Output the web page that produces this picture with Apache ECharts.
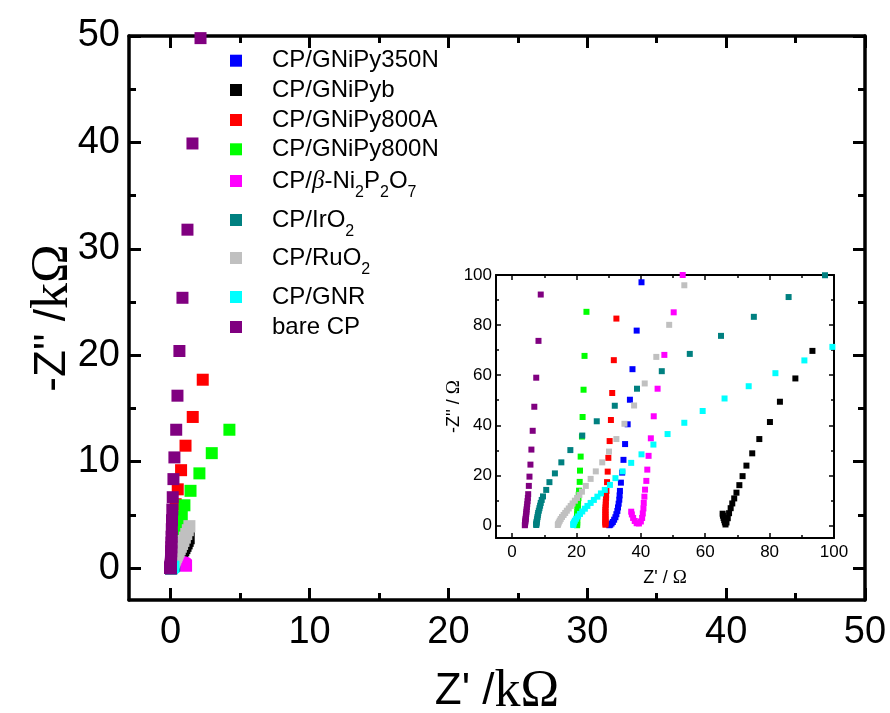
<!DOCTYPE html>
<html><head><meta charset="utf-8">
<script src="https://cdn.jsdelivr.net/npm/echarts@6/dist/echarts.min.js"></script>
<style>html,body{margin:0;padding:0;background:#fff}#c{width:890px;height:713px}</style>
</head><body><div id="c"></div>
<script>
// ---------- data (Z', -Z'' in ohm) ----------
const seriesNames = ['CP/GNiPy350N','CP/GNiPyb','CP/GNiPy800A','CP/GNiPy800N','CP/β-Ni2P2O7','CP/IrO2','CP/RuO2','CP/GNR','bare CP'];
const seriesColors = ['#0000ff','#000000','#ff0000','#00ff00','#ff00ff','#008080','#c0c0c0','#00ffff','#800080'];

const dataGNiPy350N = [[180,1000],[148,800],[122,640],[102,512],[86,410],[74,330],[64.5,265],[57,213],[51,170],[46.5,137],[43,115],
 [40.2,97.1],[38.7,77.8],[37.4,62.4],[36.6,50.2],[35.9,40.4],[35.1,32.5],[34.6,26.2],[34.2,21.1],[33.8,17.1],[33.5,13.8],
 [33.4,12.0],[33.3,10.3],[33.1,8.7],[32.9,7.2],[32.7,5.8],[32.4,4.5],[32.1,3.3],[31.7,2.3],[31.3,1.4],[30.9,0.8],[30.5,0.3],[30.2,0.1]];

const dataGNiPyb = [[1300,2800],[1225,2555],[1150,2320],[1070,2090],[990,1875],[910,1675],[830,1490],[750,1322],[675,1172],[605,1037],
 [540,912],[480,797],[425,692],[375,597],[330,512],[290,437],[256,373],[226,317],[200,268],[177,225],[157,188],[140,156],[125,128],[112,104],
 [100.5,82.5],[93.3,69.7],[88.0,58.7],[83.2,49.4],[80.1,41.3],[76.8,34.5],[74.6,28.8],[72.8,23.9],[71.6,19.7],[70.6,16.1],[69.7,13.1],
 [69.0,10.8],[68.4,8.8],[67.9,6.9],[67.4,4.9],[67.0,2.9],[66.6,1.2],[66.3,0.4],[66.1,1.2],[65.9,2.1],[65.7,3.0],[65.5,3.9],[65.4,4.7]];

const dataGNiPy800A = [[2310,17700],[1590,14200],[1070,11500],[750,9200],[510,7400],[360,6000],[260,4850],[190,3900],[142,3120],[108,2480],
 [85,1960],[68,1540],[57,1200],[49,930],[43.5,720],[39.5,550],[36.5,420],[34.7,320],[33.6,240],[33,180],[32.7,135],[32.5,104],
 [32.4,82.6],[31.6,66],[31.1,52.9],[30.7,42.1],[30.3,33.7],[29.9,27.0],[29.7,21.5],[29.5,17.3],[29.3,13.8],
 [29.2,12.2],[29.2,10.8],[29.1,9.5],[29.1,8.3],[29.0,7.2],[29.0,6.2],[29.0,5.3],[29.0,4.4],[29.0,3.6],[29.0,2.8],[29.0,2.1],[29.0,1.4],[29.0,0.8],[29.0,0.3]];

const dataGNiPy800N = [[4230,13000],[2960,10800],[2070,8900],[1430,7260],[990,5900],[800,4800],[600,3900],[460,3200],[350,2620],[270,2140],
 [210,1750],[165,1420],[132,1150],[106,920],[86,740],[70,590],[57,470],[47,370],[39.5,290],[33.5,225],[29,175],[26,138],[24.2,108],
 [23.1,85.3],[22.5,67.7],[22.2,54.2],[21.9,43.3],[21.7,35.5],[21.3,27.5],[21.1,21.9],[21.0,17.4],[20.8,13.9],
 [20.7,12.3],[20.6,10.9],[20.5,9.6],[20.4,8.4],[20.4,7.3],[20.3,6.3],[20.3,5.4],[20.2,4.5],[20.2,3.7],[20.2,2.9],[20.2,2.2],[20.2,1.5],[20.2,0.9],[20.2,0.4],[20.2,0.1]];

const dataNi2P2O7 = [[1110,220],[1075,290],[1030,350],[970,405],[900,452],[820,490],[730,520],[640,535],[550,535],[460,520],[380,495],
 [310,460],[250,420],[200,375],[160,330],[128,285],[103,240],[85,200],[72,167],[63,140],[57,118],[53,100],
 [50.2,85.1],[47.3,68.1],[45.2,54.6],[44.0,43.6],[43.1,34.8],[42.4,27.8],[42.0,22.3],[41.7,17.8],[41.3,14.3],
 [41.1,11.5],[40.9,9.0],[40.8,6.8],[40.6,4.8],[40.4,3.0],[40.0,1.6],[39.4,0.8],[38.7,0.9],[38.1,1.8],[37.6,3.0],[37.2,4.4],[37.0,5.5]];

const dataIrO2 = [[258,241],[226,212],[198,187],[174,166],[154,148],[137,133],[122,120],[109,109.5],
 [97.2,99.9],[85.9,91.2],[75.1,83.3],[64.9,75.7],[55.2,68.5],[46.5,61.6],[38.8,54.6],[31.9,47.8],[26.3,41.6],[21.8,35.9],
 [18.1,30.1],[15.3,25.2],[13.3,20.8],[11.6,17.3],[10.6,14.2],[9.6,11.6],[9.2,10.2],[8.9,9.0],[8.7,7.9],[8.5,6.9],[8.3,5.9],
 [8.1,5.0],[8.0,4.2],[7.9,3.4],[7.8,2.7],[7.7,2.0],[7.6,1.4],[7.6,0.9],[7.5,0.5],[7.5,0.2]];

const dataRuO2 = [[1350,3940],[1235,3560],[1125,3198],[1020,2862],[920,2552],[825,2267],[735,2006],[652,1773],[576,1560],[507,1367],
 [445,1194],[390,1040],[341,902],[298,782],[260,676],[227,583],[198,502],[173,432],[151,370],[132,317],[116,272],[102,233],[90,200],
 [80,172],[71.5,148],[64.5,128],[58.5,111],
 [53.5,95.9],[48.8,80.1],[44.8,67.3],[41.2,56.7],[37.9,47.9],[34.9,40.6],[32.4,34.5],[30.1,29.5],[28.0,25.2],[26.0,21.6],[24.4,18.6],
 [22.9,15.8],[21.7,13.5],[20.9,12.2],[20.2,11.0],[19.5,9.9],[18.8,8.8],[18.2,7.8],[17.6,6.8],[17.0,5.9],[16.5,5.0],[16.0,4.2],
 [15.5,3.4],[15.1,2.6],[14.8,1.9],[14.5,1.2],[14.3,0.6],[14.2,0.2]];

const dataGNR = [[198,126],[172,112],[150,100],[131,90],[114,81],
 [99.5,71.3],[90.8,65.9],[81.8,60.8],[73.5,55.6],[66.0,50.7],[59.2,45.7],[53.5,41.0],[48.3,36.5],[43.9,32.3],[40.2,28.4],[37.0,25.0],
 [34.3,21.6],[32.1,18.9],[30.4,16.2],[28.8,14.2],[27.6,12.8],[26.5,11.5],[25.4,10.2],[24.4,9.0],[23.4,7.8],[22.6,6.7],[21.8,5.6],
 [21.1,4.6],[20.5,3.6],[19.9,2.7],[19.5,1.9],[19.2,1.2],[19.0,0.6],[19.0,0.2]];

const dataBareCP = [[2150,49800],[1570,39900],[1210,31800],[850,25400],[630,20400],[490,16200],[400,13000],[270,10400],[200,8360],[150,6660],
 [120,5500],[98,4500],[82,3650],[68,2950],[57,2400],[48,1950],[40,1580],[34,1280],[29,1030],[25,830],[21.5,670],[18.5,540],[16,430],
 [14,340],[12.5,270],[11.3,210],[10.3,160],[9.5,122],
 [8.9,92.2],[8.2,73.7],[7.5,59],[6.9,47.4],[6.4,37.8],[6.0,30.3],[5.7,24.3],[5.4,19.5],[5.2,15.8],[5.0,12.5],[4.9,11],[4.8,9.7],
 [4.7,8.5],[4.6,7.4],[4.5,6.4],[4.45,5.5],[4.4,4.7],[4.3,3.9],[4.25,3.2],[4.2,2.6],[4.15,2.0],[4.1,1.5],[4.05,1.0],[4.0,0.6],[4.0,0.3],[3.95,0.1]];

// tick values
const mainMajorTicks = [0,10,20,30,40,50];
const mainMinorTicks = [5,15,25,35,45];
const insetMajorTicks = [0,20,40,60,80,100];
const insetMinorTicks = [10,30,50,70,90];

// ---------- chart ----------
const allData = [dataGNiPy350N,dataGNiPyb,dataGNiPy800A,dataGNiPy800N,dataNi2P2O7,dataIrO2,dataRuO2,dataGNR,dataBareCP];
const SANS = 'Liberation Sans, Arial, sans-serif';
const SERIF = 'Liberation Serif, Times New Roman, serif';

function axis(grid, pos, min, max, ticks, o) {
  const a = {
    type:'value', gridIndex:grid, position:pos, min:min, max:max,
    splitLine:{show:false},
    axisLine:{show:o.line, onZero:false, lineStyle:{color:'#000', width:o.lw}},
    axisTick:{show:true, inside:true, length:o.tl, customValues:ticks, lineStyle:{color:'#000', width:o.tw}},
    axisLabel:{show:!!o.labels, customValues:ticks, margin:o.margin||8, color:'#000', fontSize:o.fs||12, fontFamily:SANS},
    silent:true
  };
  if (o.name) {
    a.name = o.name; a.nameLocation = 'middle'; a.nameGap = o.nameGap; a.nameMoveOverlap = false;
    a.nameTextStyle = {color:'#000', rich:o.rich};
  }
  return a;
}

const mainRich = {a:{fontFamily:SANS, fontSize:44, color:'#000'}, b:{fontFamily:SERIF, fontSize:52, color:'#000'}};
const insetRich = {a:{fontFamily:SANS, fontSize:18, color:'#000'}, b:{fontFamily:SERIF, fontSize:19, color:'#000'}};

const xAxes = [
  axis(0,'bottom',-3,50,mainMajorTicks,{line:true,lw:3.5,tl:12,tw:3,labels:true,fs:38,margin:14,name:"{a|Z' /}{b|kΩ}",nameGap:66,rich:mainRich}),
  axis(0,'bottom',-3,50,mainMinorTicks,{line:false,lw:3,tl:7,tw:3}),
  axis(0,'top',-3,50,mainMajorTicks,{line:true,lw:3.5,tl:12,tw:3}),
  axis(0,'top',-3,50,mainMinorTicks,{line:false,lw:3,tl:7,tw:3}),
  axis(1,'bottom',-5,100,insetMajorTicks,{line:true,lw:2,tl:5,tw:1.5,labels:true,fs:17,margin:6,name:"{a|Z' / }{b|Ω}",nameGap:31,rich:insetRich}),
  axis(1,'bottom',-5,100,insetMinorTicks,{line:false,lw:2,tl:3,tw:1.5}),
  axis(1,'top',-5,100,insetMajorTicks,{line:true,lw:2,tl:5,tw:1.5}),
  axis(1,'top',-5,100,insetMinorTicks,{line:false,lw:2,tl:3,tw:1.5})
];
const yAxes = [
  axis(0,'left',-3,50,mainMajorTicks,{line:true,lw:3.5,tl:12,tw:3,labels:true,fs:38,margin:9,name:"{a|-Z'' /}{b|kΩ}",nameGap:50,rich:mainRich}),
  axis(0,'left',-3,50,mainMinorTicks,{line:false,lw:3,tl:7,tw:3}),
  axis(0,'right',-3,50,mainMajorTicks,{line:true,lw:3.5,tl:12,tw:3}),
  axis(0,'right',-3,50,mainMinorTicks,{line:false,lw:3,tl:7,tw:3}),
  axis(1,'left',-5,100,insetMajorTicks,{line:true,lw:2,tl:5,tw:1.5,labels:true,fs:17,margin:4,name:"{a|-Z'' / }{b|Ω}",nameGap:32,rich:insetRich}),
  axis(1,'left',-5,100,insetMinorTicks,{line:false,lw:2,tl:3,tw:1.5}),
  axis(1,'right',-5,100,insetMajorTicks,{line:true,lw:2,tl:5,tw:1.5}),
  axis(1,'right',-5,100,insetMinorTicks,{line:false,lw:2,tl:3,tw:1.5})
];

const series = [];
allData.forEach((d, i) => {
  series.push({type:'scatter', name:seriesNames[i], xAxisIndex:0, yAxisIndex:0, symbol:'rect', symbolSize:12, clip:true,
    itemStyle:{color:seriesColors[i], opacity:1}, data: d.map(p => [p[0]/1000, p[1]/1000]), silent:true});
});
allData.forEach((d, i) => {
  series.push({type:'scatter', name:seriesNames[i], xAxisIndex:4, yAxisIndex:4, symbol:'rect', symbolSize:6, clip:true,
    itemStyle:{color:seriesColors[i], opacity:1}, data: d, silent:true});
});

const legendCenters = [60.7, 90, 120, 149.3, 181, 220, 258, 297, 327];
const legendRich = {
  t:{fontFamily:SANS, fontSize:24, lineHeight:40, color:'#000'},
  b:{fontFamily:SERIF, fontStyle:'italic', fontSize:25, lineHeight:40, color:'#000'},
  s:{fontFamily:SANS, fontSize:16, lineHeight:16, verticalAlign:'bottom', color:'#000'}
};
function legendText(n) {
  if (n === 'CP/β-Ni2P2O7') return '{t|CP/}{b|β}{t|-Ni}{s|2}{t|P}{s|2}{t|O}{s|7}';
  if (n === 'CP/IrO2') return '{t|CP/IrO}{s|2}';
  if (n === 'CP/RuO2') return '{t|CP/RuO}{s|2}';
  return '{t|' + n + '}';
}
const legends = seriesNames.map((n, k) => ({
  show:true, orient:'vertical', left:230, top:legendCenters[k]-20, padding:0,
  itemWidth:12, itemHeight:12, icon:'rect', selectedMode:false, data:[n],
  formatter: legendText,
  textStyle:{padding:[0,0,0,25], fontSize:24, lineHeight:40, fontFamily:SANS, color:'#000', rich:legendRich}
}));

const chart = echarts.init(document.getElementById('c'), null, {renderer:'canvas'});
chart.setOption({
  animation:false,
  backgroundColor:'#fff',
  grid:[
    {left:129, top:36, width:736, height:564, containLabel:false, outerBoundsMode:'none'},
    {left:496, top:275, width:338, height:263, containLabel:false, outerBoundsMode:'none', backgroundColor:'#fff', show:true, borderWidth:0}
  ],
  legend: legends,
  xAxis: xAxes,
  yAxis: yAxes,
  series: series
});
</script>
</body></html>
